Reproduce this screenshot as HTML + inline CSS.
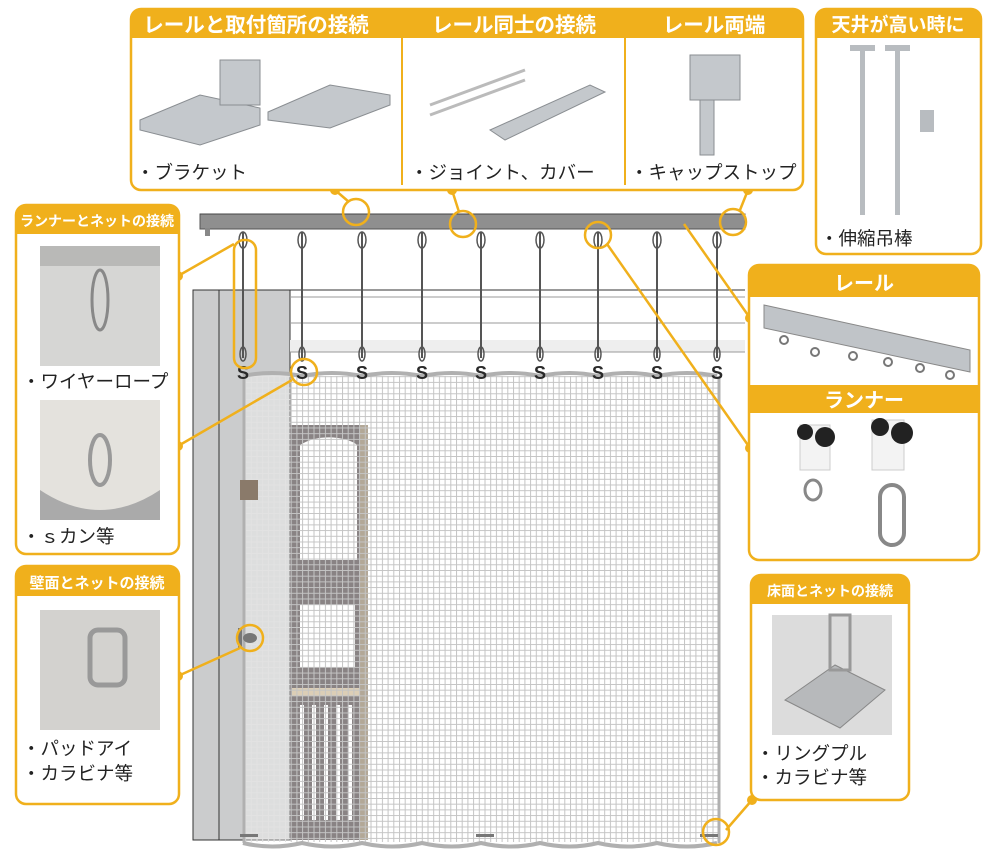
<!DOCTYPE html>
<html><head><meta charset="utf-8"><style>
body{margin:0;background:#fff}
svg{display:block}
text{font-family:"Liberation Sans","Noto Sans CJK JP",sans-serif}
.h{fill:#fff;font-weight:bold}
.l{fill:#222;font-size:18.5px}
</style></head><body>
<svg width="992" height="860" viewBox="0 0 992 860" xmlns="http://www.w3.org/2000/svg">
<defs>
<pattern id="net" width="5.7" height="5.7" patternUnits="userSpaceOnUse">
<path d="M0 0.5H5.7M0.5 0V5.7" stroke="#c4c4c4" stroke-width="1"/>
</pattern>
<pattern id="net2" width="5.7" height="5.7" patternUnits="userSpaceOnUse">
<path d="M0 0.5H5.7M0.5 0V5.7" stroke="#e2e2e2" stroke-width="1"/>
</pattern>
</defs>
<rect x="193" y="290" width="97" height="550" fill="#cbcccd" stroke="#333" stroke-width="1"/>
<line x1="219" y1="290" x2="219" y2="840" stroke="#333"/>
<line x1="290" y1="290" x2="745" y2="290" stroke="#333"/>
<line x1="290" y1="297" x2="745" y2="297" stroke="#999"/>
<line x1="290" y1="323" x2="745" y2="323" stroke="#999"/>
<rect x="290" y="340" width="455" height="12" fill="#eee"/>
<line x1="290" y1="352" x2="745" y2="352" stroke="#999"/>
<rect x="290" y="425" width="78" height="415" fill="#4a4143"/>
<rect x="360" y="425" width="8" height="415" fill="#8a7a60"/>
<path d="M300 445 C320 432 350 438 357 445 L357 560 L300 560 Z" fill="#fff"/>
<rect x="300" y="605" width="55" height="62" fill="#fff"/>
<rect x="292" y="688" width="68" height="8" fill="#c9b48f"/>
<g fill="#fff"><rect x="300" y="705" width="4" height="115"/><rect x="312" y="705" width="4" height="115"/><rect x="324" y="705" width="4" height="115"/><rect x="336" y="705" width="4" height="115"/><rect x="348" y="705" width="4" height="115"/></g>
<path d="M243 376 Q272 370 302 376 Q332 370 362 376 Q392 370 422 376 Q452 370 481 376 Q511 370 540 376 Q570 370 598 376 Q628 370 657 376 Q687 370 717 376 L720 840 Q690 848 660 840 Q630 848 600 840 Q570 848 540 840 Q510 848 480 840 Q450 848 420 840 Q390 848 360 840 Q330 848 300 840 Q270 848 243 840 Z" fill="#fff" fill-opacity="0.35"/>
<rect x="243" y="376" width="47" height="466" fill="url(#net2)"/>
<rect x="290" y="376" width="430" height="466" fill="url(#net)"/>
<path d="M243 376 Q272 370 302 376 Q332 370 362 376 Q392 370 422 376 Q452 370 481 376 Q511 370 540 376 Q570 370 598 376 Q628 370 657 376 Q687 370 717 376" fill="none" stroke="#b0b0b0" stroke-width="4"/>
<path d="M243 843 Q272 850 302 843 Q332 850 362 843 Q392 850 422 843 Q452 850 481 843 Q511 850 540 843 Q570 850 598 843 Q628 850 657 843 Q687 850 717 843" fill="none" stroke="#b0b0b0" stroke-width="4"/>
<line x1="244" y1="376" x2="244" y2="843" stroke="#b0b0b0" stroke-width="3"/>
<line x1="719" y1="376" x2="719" y2="843" stroke="#b0b0b0" stroke-width="3"/>
<rect x="200" y="214" width="545" height="15" fill="#8f8f8f" stroke="#555"/>
<line x1="200" y1="214" x2="745" y2="214" stroke="#444"/>
<rect x="205" y="228" width="5" height="8" fill="#888"/>
<g stroke="#555" stroke-width="2" fill="none">
<line x1="243" y1="232" x2="243" y2="358"/><line x1="302" y1="232" x2="302" y2="358"/><line x1="362" y1="232" x2="362" y2="358"/><line x1="422" y1="232" x2="422" y2="358"/><line x1="481" y1="232" x2="481" y2="358"/><line x1="540" y1="232" x2="540" y2="358"/><line x1="598" y1="232" x2="598" y2="358"/><line x1="657" y1="232" x2="657" y2="358"/><line x1="717" y1="232" x2="717" y2="358"/>
</g>
<g fill="none" stroke="#555" stroke-width="1.5">
<ellipse cx="243" cy="240" rx="4" ry="8"/><ellipse cx="302" cy="240" rx="4" ry="8"/><ellipse cx="362" cy="240" rx="4" ry="8"/><ellipse cx="422" cy="240" rx="4" ry="8"/><ellipse cx="481" cy="240" rx="4" ry="8"/><ellipse cx="540" cy="240" rx="4" ry="8"/><ellipse cx="598" cy="240" rx="4" ry="8"/><ellipse cx="657" cy="240" rx="4" ry="8"/><ellipse cx="717" cy="240" rx="4" ry="8"/>
<ellipse cx="243" cy="354" rx="3" ry="7"/><ellipse cx="302" cy="354" rx="3" ry="7"/><ellipse cx="362" cy="354" rx="3" ry="7"/><ellipse cx="422" cy="354" rx="3" ry="7"/><ellipse cx="481" cy="354" rx="3" ry="7"/><ellipse cx="540" cy="354" rx="3" ry="7"/><ellipse cx="598" cy="354" rx="3" ry="7"/><ellipse cx="657" cy="354" rx="3" ry="7"/><ellipse cx="717" cy="354" rx="3" ry="7"/>
</g>
<g font-size="18" font-weight="bold" fill="#2a2a2a" text-anchor="middle">
<text x="243" y="379">S</text><text x="302" y="379">S</text><text x="362" y="379">S</text><text x="422" y="379">S</text><text x="481" y="379">S</text><text x="540" y="379">S</text><text x="598" y="379">S</text><text x="657" y="379">S</text><text x="717" y="379">S</text>
</g>
<g fill="#777"><rect x="238" y="628" width="4" height="20"/><ellipse cx="250" cy="638" rx="7" ry="5"/><rect x="240" y="834" width="18" height="3"/><rect x="476" y="834" width="18" height="3"/><rect x="700" y="834" width="18" height="3"/><rect x="240" y="480" width="18" height="20" fill="#8a7a6a"/></g>
<g stroke="#f0b01c" stroke-width="2.5" fill="none">
<rect x="234" y="240" width="22" height="128" rx="10"/>
<circle cx="304" cy="372" r="13"/>
<circle cx="356" cy="212" r="13"/>
<circle cx="463" cy="224" r="13"/>
<circle cx="733" cy="222" r="13"/>
<circle cx="598" cy="235" r="13"/>
<circle cx="250" cy="638" r="13"/>
<circle cx="716" cy="832" r="13"/>
<line x1="178" y1="276" x2="234" y2="244"/>
<line x1="178" y1="446" x2="292" y2="380"/>
<line x1="178" y1="676" x2="240" y2="648"/>
<line x1="335" y1="190" x2="349" y2="202"/>
<line x1="452" y1="190" x2="459" y2="212"/>
<line x1="748" y1="190" x2="740" y2="210"/>
<line x1="684" y1="224" x2="750" y2="318"/>
<line x1="607" y1="244" x2="750" y2="448"/>
<line x1="752" y1="800" x2="726" y2="830"/>
</g>
<g fill="#f0b01c"><circle cx="335" cy="190" r="5"/><circle cx="452" cy="190" r="5"/><circle cx="748" cy="190" r="5"/><circle cx="178" cy="276" r="5"/><circle cx="178" cy="446" r="5"/><circle cx="178" cy="676" r="5"/><circle cx="750" cy="318" r="5"/><circle cx="750" cy="448" r="5"/><circle cx="752" cy="800" r="5"/></g>

<rect x="131" y="9" width="672" height="181" rx="10" fill="#fff" stroke="#f0b01c" stroke-width="2.5"/>
<path d="M131 38 V19 a10 10 0 0 1 10 -10 H793 a10 10 0 0 1 10 10 V38 Z" fill="#f0b01c"/>
<line x1="402" y1="38" x2="402" y2="185" stroke="#f0b01c" stroke-width="2"/>
<line x1="625" y1="38" x2="625" y2="185" stroke="#f0b01c" stroke-width="2"/>
<text class="h" x="256" y="32" font-size="20.5" text-anchor="middle">レールと取付箇所の接続</text>
<text class="h" x="514" y="32" font-size="20.5" text-anchor="middle">レール同士の接続</text>
<text class="h" x="714" y="32" font-size="20.5" text-anchor="middle">レール両端</text>
<g fill="#c4c8cc" stroke="#8a8e92"><path d="M140 120 L200 95 L260 108 L260 125 L200 145 L140 130 Z"/><rect x="220" y="60" width="40" height="45"/><path d="M268 112 L330 85 L390 95 L390 105 L330 128 L268 120 Z"/><path d="M490 130 L590 85 L605 92 L505 140 Z"/><rect x="690" y="55" width="50" height="45"/><rect x="700" y="100" width="14" height="55"/></g>
<line x1="430" y1="105" x2="525" y2="70" stroke="#bbb" stroke-width="3"/><line x1="430" y1="115" x2="525" y2="80" stroke="#bbb" stroke-width="3"/>
<text class="l" x="136" y="179">・ブラケット</text>
<text class="l" x="410" y="179">・ジョイント、カバー</text>
<text class="l" x="630" y="179">・キャップストップ</text>

<rect x="816" y="9" width="165" height="245" rx="10" fill="#fff" stroke="#f0b01c" stroke-width="2.5"/>
<path d="M816 38 V19 a10 10 0 0 1 10 -10 H971 a10 10 0 0 1 10 10 V38 Z" fill="#f0b01c"/>
<text class="h" x="898" y="31" font-size="19" text-anchor="middle">天井が高い時に</text>
<g fill="#b8bcc0"><rect x="860" y="45" width="5" height="170"/><rect x="850" y="45" width="25" height="6"/><rect x="895" y="45" width="5" height="170"/><rect x="885" y="45" width="25" height="6"/><rect x="920" y="110" width="14" height="22"/></g>
<text class="l" x="820" y="245">・伸縮吊棒</text>

<rect x="16" y="205" width="163" height="349" rx="10" fill="#fff" stroke="#f0b01c" stroke-width="2.5"/>
<path d="M16 234 V215 a10 10 0 0 1 10 -10 H169 a10 10 0 0 1 10 10 V234 Z" fill="#f0b01c"/>
<text class="h" x="97" y="226" font-size="14" text-anchor="middle">ランナーとネットの接続</text>
<rect x="40" y="246" width="120" height="120" fill="#d6d6d4"/>
<rect x="40" y="246" width="120" height="20" fill="#b9b9b7"/>
<ellipse cx="100" cy="300" rx="8" ry="30" fill="none" stroke="#888" stroke-width="3"/>
<text class="l" x="22" y="388">・ワイヤーロープ</text>
<rect x="40" y="400" width="120" height="120" fill="#e4e2dd"/>
<path d="M40 490 Q100 530 160 490 L160 520 L40 520 Z" fill="#aaa"/>
<ellipse cx="100" cy="460" rx="10" ry="25" fill="none" stroke="#999" stroke-width="4"/>
<text class="l" x="22" y="543">・ｓカン等</text>

<rect x="16" y="566" width="163" height="238" rx="10" fill="#fff" stroke="#f0b01c" stroke-width="2.5"/>
<path d="M16 596 V576 a10 10 0 0 1 10 -10 H169 a10 10 0 0 1 10 10 V596 Z" fill="#f0b01c"/>
<text class="h" x="97" y="588" font-size="15" text-anchor="middle">壁面とネットの接続</text>
<rect x="40" y="610" width="120" height="120" fill="#d3d2cf"/>
<rect x="90" y="630" width="35" height="55" rx="8" fill="none" stroke="#999" stroke-width="5"/>
<text class="l" x="22" y="755">・パッドアイ</text>
<text class="l" x="22" y="780">・カラビナ等</text>

<rect x="749" y="265" width="230" height="295" rx="10" fill="#fff" stroke="#f0b01c" stroke-width="2.5"/>
<path d="M749 297 V275 a10 10 0 0 1 10 -10 H969 a10 10 0 0 1 10 10 V297 Z" fill="#f0b01c"/>
<rect x="749" y="385" width="230" height="28" fill="#f0b01c"/>
<text class="h" x="864" y="290" font-size="20" text-anchor="middle">レール</text>
<text class="h" x="864" y="407" font-size="20" text-anchor="middle">ランナー</text>
<path d="M764 305 L970 350 L970 372 L764 328 Z" fill="#c0c4c8" stroke="#888"/>
<g fill="none" stroke="#777" stroke-width="2"><circle cx="784" cy="340" r="4"/><circle cx="815" cy="352" r="4"/><circle cx="853" cy="356" r="4"/><circle cx="888" cy="362" r="4"/><circle cx="920" cy="368" r="4"/><circle cx="950" cy="375" r="4"/></g>
<rect x="800" y="425" width="30" height="45" fill="#f3f3f3" stroke="#ccc"/><circle cx="825" cy="437" r="10" fill="#222"/><circle cx="805" cy="432" r="8" fill="#222"/>
<rect x="872" y="420" width="32" height="50" fill="#f3f3f3" stroke="#ccc"/><circle cx="902" cy="433" r="11" fill="#222"/><circle cx="880" cy="427" r="9" fill="#222"/>
<ellipse cx="813" cy="490" rx="8" ry="10" fill="none" stroke="#888" stroke-width="3"/>
<rect x="880" y="485" width="24" height="60" rx="12" fill="none" stroke="#888" stroke-width="4"/>

<rect x="751" y="575" width="158" height="225" rx="10" fill="#fff" stroke="#f0b01c" stroke-width="2.5"/>
<path d="M751 604 V585 a10 10 0 0 1 10 -10 H899 a10 10 0 0 1 10 10 V604 Z" fill="#f0b01c"/>
<text class="h" x="830" y="596" font-size="14" text-anchor="middle">床面とネットの接続</text>
<rect x="772" y="615" width="120" height="120" fill="#dcdcdc"/>
<path d="M785 700 L835 665 L885 690 L840 728 Z" fill="#b7b9bb" stroke="#888"/>
<rect x="830" y="615" width="20" height="55" fill="none" stroke="#999" stroke-width="3"/>
<text class="l" x="756" y="760">・リングプル</text>
<text class="l" x="756" y="784">・カラビナ等</text>
</svg>
</body></html>
